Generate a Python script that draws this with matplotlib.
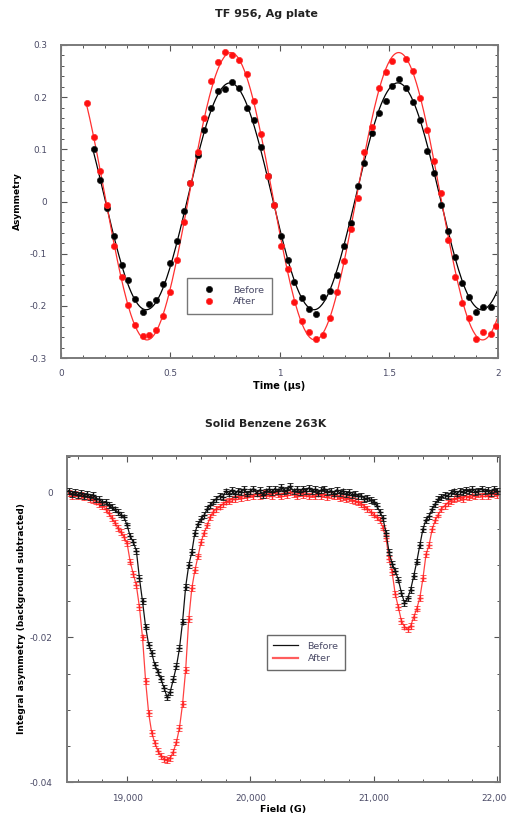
import numpy as np
import matplotlib
matplotlib.use("Agg")
import matplotlib.pyplot as plt
from matplotlib.lines import Line2D
from matplotlib.ticker import MultipleLocator, FixedLocator, FuncFormatter

plt.rcParams['font.family'] = ['DejaVu Sans']

# ---------------- Top panel data: TF 956, Ag plate ----------------
time_us = [0.117, 0.149, 0.180, 0.211, 0.244, 0.277, 0.308, 0.339, 0.373, 0.405,
           0.436, 0.468, 0.500, 0.532, 0.563, 0.592, 0.625, 0.655, 0.688, 0.720,
           0.751, 0.784, 0.816, 0.850, 0.883, 0.915, 0.946, 0.976, 1.007, 1.040,
           1.068, 1.104, 1.136, 1.168, 1.199, 1.231, 1.265, 1.296, 1.327, 1.358,
           1.388, 1.423, 1.457, 1.487, 1.516, 1.548, 1.581, 1.612, 1.643, 1.677,
           1.707, 1.738, 1.772, 1.803, 1.835, 1.869, 1.899, 1.933, 1.967, 1.990]
asym_before = [np.nan, 0.101, 0.041, -0.012, -0.067, -0.122, -0.150, -0.187, -0.211, -0.196,
               -0.189, -0.159, -0.117, -0.075, -0.018, 0.036, 0.089, 0.137, 0.180, 0.212,
               0.215, 0.230, 0.217, 0.180, 0.157, 0.105, 0.048, -0.007, -0.067, -0.112,
               -0.155, -0.185, -0.207, -0.216, -0.184, -0.171, -0.141, -0.085, -0.042, 0.030,
               0.074, 0.131, 0.169, 0.193, 0.221, 0.234, 0.217, 0.191, 0.157, 0.097,
               0.054, -0.007, -0.057, -0.107, -0.157, -0.184, -0.211, -0.203, -0.203, np.nan]
asym_after = [0.189, 0.124, 0.058, -0.007, -0.085, -0.145, -0.198, -0.237, -0.257, -0.256,
              -0.246, -0.219, -0.174, -0.113, -0.039, 0.036, 0.095, 0.161, 0.231, 0.268,
              0.286, 0.281, 0.272, 0.244, 0.193, 0.129, 0.048, -0.007, -0.085, -0.130,
              -0.192, -0.229, -0.251, -0.263, -0.256, -0.224, -0.173, -0.115, -0.053, 0.006,
              0.094, 0.143, 0.217, 0.249, 0.270, np.nan, 0.273, 0.251, 0.199, 0.137,
              0.078, 0.017, -0.074, -0.145, -0.195, -0.224, -0.263, -0.251, -0.254, -0.239]
top_labels = ["Before", "After"]

# ---------------- Bottom panel data: Solid Benzene 263K ----------------
field_G = [18525, 18550, 18575, 18600, 18625, 18650, 18675, 18700, 18725, 18750,
           18775, 18800, 18825, 18850, 18875, 18900, 18925, 18950, 18975, 19000,
           19025, 19050, 19075, 19100, 19125, 19150, 19175, 19200, 19225, 19250,
           19275, 19300, 19325, 19350, 19375, 19400, 19425, 19450, 19475, 19500,
           19525, 19550, 19575, 19600, 19625, 19650, 19675, 19700, 19725, 19750,
           19775, 19800, 19825, 19850, 19875, 19900, 19925, 19950, 19975, 20000,
           20025, 20050, 20075, 20100, 20125, 20150, 20175, 20200, 20225, 20250,
           20275, 20300, 20325, 20350, 20375, 20400, 20425, 20450, 20475, 20500,
           20525, 20550, 20575, 20600, 20625, 20650, 20675, 20700, 20725, 20750,
           20775, 20800, 20825, 20850, 20875, 20900, 20925, 20950, 20975, 21000,
           21025, 21050, 21075, 21100, 21125, 21150, 21175, 21200, 21225, 21250,
           21275, 21300, 21325, 21350, 21375, 21400, 21425, 21450, 21475, 21500,
           21525, 21550, 21575, 21600, 21625, 21650, 21675, 21700, 21725, 21750,
           21775, 21800, 21825, 21850, 21875, 21900, 21925, 21950, 21975, 22000]
int_before = [0.0003, -0.0002, 0.0001, -0.0003, 0.0000, -0.0004, -0.0002, -0.0006, -0.0003, -0.0008,
              -0.0009, -0.0013, -0.0012, -0.0017, -0.0020, -0.0023, -0.0027, -0.0030, -0.0034, -0.0045,
              -0.0060, -0.0068, -0.0080, -0.0118, -0.0150, -0.0185, -0.0210, -0.0222, -0.0238, -0.0248,
              -0.0258, -0.0270, -0.0283, -0.0275, -0.0258, -0.0240, -0.0215, -0.0178, -0.0130, -0.0100,
              -0.0082, -0.0055, -0.0043, -0.0036, -0.0031, -0.0022, -0.0017, -0.0012, -0.0008, -0.0004,
              -0.0006, 0.0002, -0.0001, 0.0004, -0.0002, 0.0003, 0.0001, 0.0005, -0.0001, 0.0002,
              0.0006, 0.0000, 0.0004, -0.0003, 0.0002, 0.0005, 0.0001, 0.0006, 0.0002, 0.0008,
              0.0003, 0.0004, 0.0009, 0.0002, 0.0005, 0.0001, 0.0006, 0.0003, 0.0007, 0.0002,
              0.0005, 0.0000, 0.0004, 0.0006, 0.0001, 0.0003, -0.0001, 0.0004, 0.0000, 0.0002,
              -0.0002, 0.0001, -0.0003, -0.0001, -0.0005, -0.0004, -0.0008, -0.0007, -0.0010, -0.0012,
              -0.0018, -0.0026, -0.0035, -0.0055, -0.0082, -0.0098, -0.0108, -0.0120, -0.0138, -0.0152,
              -0.0146, -0.0134, -0.0115, -0.0095, -0.0072, -0.0050, -0.0037, -0.0032, -0.0022, -0.0015,
              -0.0009, -0.0006, -0.0003, -0.0004, 0.0000, 0.0002, -0.0001, 0.0003, 0.0001, 0.0004,
              0.0002, 0.0005, 0.0001, 0.0003, 0.0006, 0.0002, 0.0004, 0.0000, 0.0005, 0.0003]
int_after = [0.0000, -0.0004, -0.0001, -0.0005, -0.0003, -0.0006, -0.0005, -0.0008, -0.0010, -0.0012,
             -0.0015, -0.0018, -0.0022, -0.0028, -0.0035, -0.0041, -0.0049, -0.0054, -0.0061, -0.0070,
             -0.0095, -0.0112, -0.0128, -0.0158, -0.0200, -0.0260, -0.0305, -0.0332, -0.0346, -0.0357,
             -0.0364, -0.0368, -0.0370, -0.0367, -0.0358, -0.0345, -0.0325, -0.0292, -0.0245, -0.0175,
             -0.0132, -0.0107, -0.0088, -0.0068, -0.0055, -0.0045, -0.0033, -0.0026, -0.0022, -0.0019,
             -0.0016, -0.0012, -0.0011, -0.0008, -0.0009, -0.0005, -0.0007, -0.0003, -0.0006, -0.0002,
             -0.0005, -0.0001, -0.0004, 0.0000, -0.0003, -0.0001, -0.0004, 0.0001, -0.0002, -0.0004,
             0.0000, -0.0003, 0.0001, -0.0002, -0.0004, 0.0000, -0.0003, -0.0001, -0.0004, -0.0002,
             -0.0005, -0.0001, -0.0004, -0.0002, -0.0006, -0.0003, -0.0005, -0.0004, -0.0007, -0.0006,
             -0.0008, -0.0007, -0.0010, -0.0011, -0.0013, -0.0015, -0.0019, -0.0022, -0.0026, -0.0030,
             -0.0034, -0.0038, -0.0048, -0.0062, -0.0092, -0.0110, -0.0140, -0.0158, -0.0177, -0.0185,
             -0.0189, -0.0184, -0.0172, -0.0160, -0.0145, -0.0118, -0.0085, -0.0072, -0.0050, -0.0038,
             -0.0030, -0.0022, -0.0018, -0.0014, -0.0011, -0.0009, -0.0007, -0.0006, -0.0008, -0.0004,
             -0.0006, -0.0003, -0.0005, -0.0002, -0.0004, -0.0001, -0.0004, -0.0002, 0.0000, -0.0003]
int_err = [0.0004] * len(field_G)
bottom_labels = ["Before", "After"]

# ---------------- figure ----------------
W, H = 507, 815
fig = plt.figure(figsize=(W / 100, H / 100), dpi=100)

TICK_COLOR = "#4a4a66"
SPINE_COLOR = "#7a7a7a"


def style_axes(ax):
    for s in ax.spines.values():
        s.set_color(SPINE_COLOR)
        s.set_linewidth(1.4)
    ax.tick_params(which="both", direction="in", top=True, right=True,
                   colors="#555555", labelcolor=TICK_COLOR, labelsize=6.4)
    ax.tick_params(which="major", length=4.5, width=0.8)
    ax.tick_params(which="minor", length=2.5, width=0.7)


def sine_fit(t, y, tmin, tmax):
    t = np.asarray(t, float)
    y = np.asarray(y, float)
    m = ~np.isnan(y)
    t, y = t[m], y[m]
    best = None
    for w in np.linspace(6.0, 10.0, 2001):
        A = np.column_stack([np.cos(w * t), np.sin(w * t), np.ones_like(t)])
        coef, *_ = np.linalg.lstsq(A, y, rcond=None)
        r = np.sum((A @ coef - y) ** 2)
        if best is None or r < best[0]:
            best = (r, w, coef)
    _, w, c = best
    tt = np.linspace(tmin, tmax, 400)
    return tt, c[0] * np.cos(w * tt) + c[1] * np.sin(w * tt) + c[2]


# ---- top axes ----
ax1 = fig.add_axes([61 / W, 1 - 358 / H, 437 / W, 313 / H])
style_axes(ax1)
tb, fb = sine_fit(time_us, asym_before, 0.145, 2.0)
ta, fa = sine_fit(time_us, asym_after, 0.117, 2.0)
ax1.plot(tb, fb, color="black", lw=0.9, zorder=2)
ax1.plot(ta, fa, color="#ff3030", lw=0.9, zorder=2)
ax1.plot(time_us, asym_before, "o", color="black", ms=4.5, mec="#222222", mew=0.5,
         label=top_labels[0], zorder=3)
ax1.plot(time_us, asym_after, "o", color="#ff1010", ms=4.5, mec="#ff3030", mew=0.5,
         label=top_labels[1], zorder=3)
ax1.set_xlim(0, 2)
ax1.set_ylim(-0.3, 0.3)
ax1.xaxis.set_major_locator(MultipleLocator(0.5))
ax1.xaxis.set_minor_locator(MultipleLocator(0.1))
ax1.yaxis.set_major_locator(MultipleLocator(0.1))
ax1.yaxis.set_minor_locator(MultipleLocator(0.02))
ax1.xaxis.set_major_formatter(FuncFormatter(lambda v, p: f"{v:g}"))
ax1.yaxis.set_major_formatter(FuncFormatter(lambda v, p: "0" if abs(v) < 1e-9 else f"{v:.1f}"))
ax1.tick_params(axis="x", which="major", pad=8)
ax1.tick_params(axis="y", which="major", pad=10)
ax1.set_xlabel("Time (µs)", fontsize=7, fontweight="bold", labelpad=2)
ax1.set_ylabel("Asymmetry", fontsize=6.5, fontweight="bold", labelpad=6)
leg1 = ax1.legend(loc="upper left", bbox_to_anchor=(0.288, 0.2556), borderaxespad=0,
                  fontsize=6.8, frameon=True, fancybox=False, handlelength=3.0,
                  handletextpad=1.1, borderpad=0.8, labelspacing=0.3, markerscale=1.0)
leg1.get_frame().set_edgecolor("#555555")
leg1.get_frame().set_linewidth(1.0)
for txt in leg1.get_texts():
    txt.set_color(TICK_COLOR)
fig.text(266 / W, 1 - 14 / H, "TF 956, Ag plate", ha="center", va="center",
         fontsize=8, fontweight="bold", color="#222222")

# ---- bottom axes ----
ax2 = fig.add_axes([66.7 / W, 1 - 782 / H, 433.3 / W, 326 / H])
style_axes(ax2)
ax2.errorbar(field_G, int_before, yerr=int_err, fmt="-", marker="+", ms=4, color="#111111",
             ecolor="#333333", elinewidth=0.7, capsize=2.2, capthick=0.7, lw=0.9, zorder=3)
ax2.errorbar(field_G, int_after, yerr=int_err, fmt="-", marker="+", ms=4, color="#ff2020",
             ecolor="#ff4040", elinewidth=0.7, capsize=2.2, capthick=0.7, lw=0.9, alpha=0.85,
             zorder=2)
ax2.set_xlim(18510, 22025)
ax2.set_ylim(-0.04, 0.0051)
ax2.xaxis.set_major_locator(MultipleLocator(1000))
ax2.xaxis.set_minor_locator(MultipleLocator(200))
ax2.yaxis.set_major_locator(FixedLocator([-0.04, -0.02, 0.0]))
ax2.yaxis.set_minor_locator(MultipleLocator(0.005))
ax2.xaxis.set_major_formatter(FuncFormatter(lambda v, p: f"{int(round(v)):,}"))
ax2.yaxis.set_major_formatter(FuncFormatter(lambda v, p: "0" if abs(v) < 1e-12 else f"{v:.2f}"))
ax2.tick_params(axis="x", which="major", pad=9)
ax2.tick_params(axis="y", which="major", pad=10)
ax2.set_xlabel("Field (G)", fontsize=6.8, fontweight="bold", labelpad=1)
ax2.set_ylabel("Integral asymmetry (background subtracted)", fontsize=6.5,
               fontweight="bold", labelpad=3)
handles2 = [Line2D([], [], color="#111111", lw=0.9),
            Line2D([], [], color="#ff4040", lw=1.6, alpha=0.85)]
leg2 = ax2.legend(handles2, bottom_labels, loc="upper left", bbox_to_anchor=(0.462, 0.451),
                  borderaxespad=0, fontsize=6.8, frameon=True, fancybox=False,
                  handlelength=2.6, handletextpad=1.0, borderpad=0.7, labelspacing=0.35)
leg2.get_frame().set_edgecolor("#444444")
leg2.get_frame().set_linewidth(1.0)
for txt in leg2.get_texts():
    txt.set_color(TICK_COLOR)
fig.text(266 / W, 1 - 424 / H, "Solid Benzene 263K", ha="center", va="center",
         fontsize=7.8, fontweight="bold", color="#222222")

fig.savefig("out.png", dpi=100)
